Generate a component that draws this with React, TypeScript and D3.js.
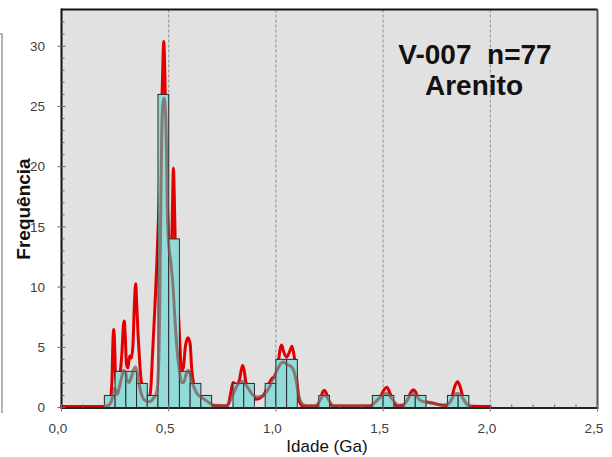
import React from "react";
import * as d3 from "d3";

// Histogram bins (left edge in Ga) and counts
const binLefts = [0.20, 0.25, 0.30, 0.35, 0.40, 0.45, 0.50, 0.55, 0.60, 0.65, 0.80, 0.85, 0.95, 1.00, 1.05, 1.20, 1.45, 1.50, 1.60, 1.65, 1.80, 1.85];
const binCounts = [1, 3, 3, 2, 1, 26, 14, 3, 2, 1, 2, 2, 2, 4, 4, 1, 1, 1, 1, 1, 1, 1];
const binWidth = 0.05;

// Probability density plot (red)
const pdpAge = [0, 0.20, 0.225, 0.235, 0.240, 0.244, 0.248, 0.252, 0.262, 0.272, 0.282, 0.289, 0.293, 0.297, 0.303, 0.310, 0.318, 0.325, 0.333, 0.340, 0.346, 0.351, 0.356, 0.362, 0.368, 0.378, 0.392, 0.405, 0.415, 0.425, 0.435, 0.445, 0.455, 0.463, 0.470, 0.477, 0.484, 0.490, 0.500, 0.508, 0.515, 0.519, 0.522, 0.526, 0.530, 0.540, 0.550, 0.560, 0.568, 0.578, 0.590, 0.600, 0.607, 0.615, 0.630, 0.650, 0.680, 0.700, 0.770, 0.780, 0.790, 0.800, 0.815, 0.830, 0.838, 0.845, 0.852, 0.860, 0.870, 0.890, 0.905, 0.925, 0.945, 0.960, 0.980, 0.995, 1.010, 1.020, 1.027, 1.035, 1.050, 1.065, 1.075, 1.085, 1.097, 1.110, 1.125, 1.190, 1.205, 1.218, 1.226, 1.235, 1.250, 1.265, 1.440, 1.460, 1.490, 1.505, 1.517, 1.530, 1.547, 1.565, 1.595, 1.615, 1.630, 1.641, 1.652, 1.664, 1.690, 1.730, 1.780, 1.800, 1.818, 1.835, 1.848, 1.860, 1.875, 1.897, 2.0];
const pdpFreq = [0, 0, 0.3, 2, 5.5, 6.4, 5, 2.5, 1.5, 2.5, 4.5, 6.8, 7.1, 6, 3.5, 3.2, 4.2, 4.0, 5, 8.5, 10.2, 8.5, 6.4, 4.5, 2.8, 1.5, 0.6, 0.5, 1.2, 4.5, 8, 12, 17, 22, 26.5, 30.3, 26, 20, 14, 12, 14, 18, 19.8, 17.5, 14, 10, 6, 3, 3.2, 5, 5.7, 5.2, 3.2, 2, 1.2, 0.8, 0.4, 0.1, 0.05, 0.3, 1.2, 2.0, 1.8, 2.2, 3.0, 3.4, 3.0, 2.0, 1.6, 1.2, 0.6, 0.7, 1.0, 1.6, 2.3, 2.5, 3.5, 4.8, 5.1, 4.6, 4.1, 4.6, 5.0, 4.2, 2.3, 0.4, 0.05, 0.05, 0.4, 1.2, 1.35, 1.1, 0.3, 0.05, 0.05, 0.3, 0.9, 1.4, 1.6, 1.2, 0.4, 0.05, 0.1, 0.6, 1.2, 1.4, 1.2, 0.7, 0.45, 0.3, 0.1, 0.1, 0.6, 1.7, 2.05, 1.6, 0.6, 0.05, 0];

// Smoother density curve (brown)
const kdeAge = [0.20, 0.22, 0.235, 0.245, 0.252, 0.260, 0.270, 0.280, 0.290, 0.298, 0.305, 0.315, 0.325, 0.335, 0.345, 0.355, 0.365, 0.375, 0.390, 0.410, 0.430, 0.445, 0.452, 0.458, 0.462, 0.467, 0.472, 0.478, 0.485, 0.490, 0.494, 0.500, 0.510, 0.520, 0.530, 0.540, 0.550, 0.560, 0.570, 0.580, 0.590, 0.600, 0.610, 0.620, 0.635, 0.650, 0.670, 0.690, 0.710, 0.770, 0.785, 0.800, 0.815, 0.830, 0.845, 0.860, 0.875, 0.890, 0.905, 0.925, 0.945, 0.960, 0.975, 0.990, 1.005, 1.020, 1.035, 1.050, 1.065, 1.080, 1.095, 1.105, 1.120, 1.140, 1.185, 1.200, 1.215, 1.226, 1.240, 1.255, 1.270, 1.440, 1.460, 1.480, 1.500, 1.515, 1.530, 1.550, 1.570, 1.595, 1.610, 1.625, 1.640, 1.655, 1.670, 1.690, 1.730, 1.780, 1.800, 1.815, 1.830, 1.848, 1.865, 1.880, 1.895, 1.910];
const kdeFreq = [0, 0.1, 0.6, 1.5, 1.4, 1.0, 1.6, 2.4, 3.0, 2.9, 2.2, 2.0, 2.4, 3.0, 3.3, 2.6, 1.6, 0.9, 0.5, 0.4, 0.7, 1.3, 3, 8, 15, 22, 25, 25.6, 24.5, 21, 16, 13.5, 12, 10, 7, 4.5, 3.0, 2.0, 2.0, 2.6, 3.0, 2.7, 2.0, 1.5, 1.0, 0.8, 0.55, 0.3, 0.1, 0.05, 0.4, 1.0, 1.6, 2.0, 2.1, 1.8, 1.4, 1.0, 0.8, 0.8, 1.0, 1.3, 1.8, 2.4, 3.0, 3.5, 3.7, 3.5, 3.4, 3.1, 2.1, 1.0, 0.3, 0.05, 0.05, 0.35, 0.8, 0.95, 0.75, 0.3, 0.05, 0.05, 0.3, 0.65, 1.0, 1.1, 0.9, 0.45, 0.1, 0.15, 0.45, 0.9, 1.1, 0.9, 0.55, 0.4, 0.25, 0.1, 0.15, 0.45, 0.9, 1.1, 0.9, 0.45, 0.1, 0];

const xTickValues = [0, 0.5, 1.0, 1.5, 2.0, 2.5];
const yTickValues = [0, 5, 10, 15, 20, 25, 30];
const gridValues = [0.5, 1.0, 1.5, 2.0];
const titleLine1 = "V-007  n=77";
const titleLine2 = "Arenito";
const xTitle = "Idade (Ga)";
const yTitle = "Frequência";

export default function App() {
  const x = d3.scaleLinear().domain([0, 2.5]).range([61.5, 597.5]);
  const y = d3.scaleLinear().domain([0, 33.05]).range([407.5, 9.5]);
  const [x0, x1] = x.range();
  const [y0, y1] = y.range();

  const pdp = pdpAge.map((a, i) => [a, pdpFreq[i]] as [number, number]);
  const kde = kdeAge.map((a, i) => [a, kdeFreq[i]] as [number, number]);
  const line = d3
    .line<[number, number]>()
    .x((d) => x(d[0]))
    .y((d) => y(d[1]) - 1)
    .curve(d3.curveMonotoneX);

  const fmt = (v: number) => v.toFixed(1).replace(".", ",");
  const xMinor = d3.range(0, 26).map((i) => i / 10).filter((v) => Math.abs(v * 2 - Math.round(v * 2)) > 1e-6);
  const yMinor = d3.range(1, 33).filter((v) => v % 5 !== 0);
  const font = "'Liberation Sans', Arial, sans-serif";

  return (
    <svg width={612} height={457} style={{ position: "absolute", left: 0, top: 0, background: "#fff" }} fontFamily={font}>
      <rect x={0} y={0} width={612} height={457} fill="#ffffff" />
      {/* left page frame */}
      <path d="M0,34 L2,34 L2,413" fill="none" stroke="#b4b4b4" strokeWidth={2} />
      {/* plot background */}
      <rect x={x0} y={y1} width={x1 - x0} height={y0 - y1} fill="#e1e1e1" />
      {/* grid */}
      {gridValues.map((g) => (
        <line key={g} x1={x(g)} x2={x(g)} y1={y1} y2={y0} stroke="#8c8c8c" strokeWidth={1} strokeDasharray="3,2" />
      ))}
      {/* red density */}
      <path d={line(pdp) || ""} fill="none" stroke="#e00000" strokeWidth={3} strokeLinejoin="round" strokeLinecap="round" />
      {/* bars */}
      {binLefts.map((b, i) => (
        <rect
          key={b}
          x={x(b)}
          y={y(binCounts[i])}
          width={x(b + binWidth) - x(b)}
          height={y(0) - y(binCounts[i])}
          fill="#92dbd8"
          stroke="#2a2a2a"
          strokeWidth={1}
        />
      ))}
      {/* brown density */}
      <path d={line(kde) || ""} fill="none" stroke="#805050" strokeOpacity={0.7} strokeWidth={3} strokeLinejoin="round" strokeLinecap="round" />
      {/* frame */}
      <line x1={x0} x2={x1} y1={y1} y2={y1} stroke="#111" strokeWidth={2} />
      <line x1={x1} x2={x1} y1={y1} y2={y0} stroke="#555" strokeWidth={2} />
      <line x1={x0} x2={x0} y1={y1 - 1} y2={y0 + 1} stroke="#111" strokeWidth={2} />
      <line x1={x0 - 1} x2={x1 + 1} y1={y0 + 0.5} y2={y0 + 0.5} stroke="#222" strokeWidth={2} />
      {/* x ticks */}
      {xMinor.map((v) => (
        <line key={"xm" + v} x1={x(v)} x2={x(v)} y1={y0} y2={y0 - 3} stroke="#666" strokeWidth={1} />
      ))}
      {xTickValues.map((v) => (
        <g key={"xt" + v}>
          <line x1={x(v)} x2={x(v)} y1={y0 - 3} y2={y0 + 4} stroke="#777" strokeWidth={1} />
          <text x={x(v) - 3.5} y={433.3} textAnchor="middle" fontSize={13.5} fill="#404040">
            {fmt(v)}
          </text>
        </g>
      ))}
      {/* y ticks */}
      {yMinor.map((v) => (
        <line key={"ym" + v} x1={x0} x2={x0 + 3} y1={y(v)} y2={y(v)} stroke="#666" strokeWidth={1} />
      ))}
      {yTickValues.map((v) => (
        <g key={"yt" + v}>
          <line x1={x0 - 4} x2={x0 + 4} y1={y(v)} y2={y(v)} stroke="#666" strokeWidth={1} />
          <text x={45} y={y(v)} dy="0.35em" textAnchor="end" fontSize={13.5} fill="#404040">
            {v}
          </text>
        </g>
      ))}
      {/* axis titles */}
      <text x={327} y={452} textAnchor="middle" fontSize={17} fill="#111">
        {xTitle}
      </text>
      <text transform="translate(29.5,209) rotate(-90)" textAnchor="middle" fontSize={19} fontWeight="bold" fill="#111">
        {yTitle}
      </text>
      {/* annotation */}
      <text x={475} y={63.5} textAnchor="middle" fontSize={28} fontWeight="bold" fill="#111" style={{ whiteSpace: "pre" }}>
        {titleLine1}
      </text>
      <text x={474} y={95} textAnchor="middle" fontSize={28} fontWeight="bold" fill="#111">
        {titleLine2}
      </text>
    </svg>
  );
}
